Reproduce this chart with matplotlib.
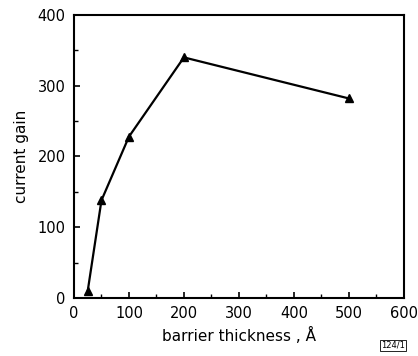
import numpy as np
import matplotlib.pyplot as plt

thickness = [25, 50, 100, 200, 500]
gain = [10, 138, 228, 340, 282]
x_ticks = [0, 100, 200, 300, 400, 500, 600]
y_ticks = [0, 100, 200, 300, 400]

plt.rcParams['font.family'] = 'DejaVu Sans'

fig = plt.figure(figsize=(4.18, 3.56), dpi=100)
ax = fig.add_axes([0.177, 0.163, 0.789, 0.795])

ax.plot(thickness, gain, '-^', c='black', lw=1.6, markersize=5.5)

ax.set_xlim(0, 600)
ax.set_ylim(0, 400)
ax.set_xticks(x_ticks)
ax.set_yticks(y_ticks)
ax.set_xticks(np.arange(50, 600, 100), minor=True)
ax.set_yticks(np.arange(50, 400, 100), minor=True)
ax.tick_params(direction='in', length=4, width=1.2, labelsize=10.5, pad=6)
ax.tick_params(which='minor', direction='in', length=3, width=1.0)
for s in ax.spines.values():
    s.set_linewidth(1.5)

ax.set_xlabel('barrier thickness , Å', fontsize=11, labelpad=4)
ax.set_ylabel('current gain', fontsize=11, labelpad=6)

fig.text(0.94, 0.017, '124/1', fontsize=6, ha='center', va='bottom',
         bbox=dict(boxstyle='square,pad=0.15', fc='white', ec='black', lw=0.6))

plt.savefig('out.png')
